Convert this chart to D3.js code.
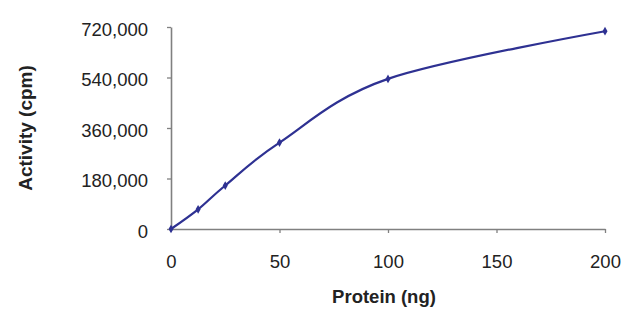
<!DOCTYPE html>
<html><head><meta charset="utf-8">
<script src="https://cdn.jsdelivr.net/npm/d3@7"></script>
<style>
html,body{margin:0;padding:0;background:#fff;}
svg{display:block;font-family:"Liberation Sans",Arial,sans-serif;}
</style></head>
<body>
<svg id="c" width="640" height="323"></svg>
<script>
const protein = [0, 12.5, 25, 50, 100, 200];
const activity = [0, 70000, 155000, 308000, 535000, 705000];
const xTicks = [0, 50, 100, 150, 200];
const yTicks = [0, 180000, 360000, 540000, 720000];
const xTitle = "Protein (ng)";
const yTitle = "Activity (cpm)";

const svg = d3.select("#c");
const m = {l:171, r:35, t:27, b:94};
const W = 640, H = 323;
const x = d3.scaleLinear().domain([0,200]).range([m.l, W - m.r]);
const y = d3.scaleLinear().domain([0,720000]).range([H - m.b, m.t]);
const axisCol = "#808080", txtCol = "#222";

const fmt = d3.format(",");
const gx = svg.append("g").attr("transform", `translate(0,${y(0)})`)
  .call(d3.axisBottom(x).tickValues(xTicks).tickSizeOuter(0).tickSizeInner(4).tickPadding(22).tickFormat(d3.format("d")));
const gy = svg.append("g").attr("transform", `translate(${x(0)},0)`)
  .call(d3.axisLeft(y).tickValues(yTicks).tickSizeOuter(0).tickSizeInner(4).tickPadding(19).tickFormat(fmt));
[gx, gy].forEach(g => {
  g.select(".domain").attr("stroke", axisCol).attr("stroke-width", 1.6);
  g.selectAll(".tick line").attr("stroke", axisCol).attr("stroke-width", 1.3);
  g.selectAll(".tick text").attr("fill", txtCol).style("font-size", "18.5px").style("font-family", "'Liberation Sans',Arial,sans-serif");
});
gy.selectAll(".tick text").attr("dy", "0.45em");
gx.select(".tick line").attr("display", "none");

const data = protein.map((p,i) => ({p, a: activity[i]}));
const line = d3.line().x(d => x(d.p)).y(d => y(d.a)).curve(d3.curveCardinal.tension(0));
svg.append("path").datum(data).attr("d", line)
  .attr("fill","none").attr("stroke","#2E3192").attr("stroke-width",2.2);
svg.append("g").selectAll("path").data(data).join("path")
  .attr("d", d3.symbol(d3.symbolDiamond, 22))
  .attr("transform", d => `translate(${x(d.p)},${y(d.a)})`)
  .attr("fill","#2E3192");

svg.append("text").attr("x", 384).attr("y", 303).attr("text-anchor","middle")
  .attr("fill", txtCol).style("font-weight","bold").style("font-size","18.5px").text(xTitle);
svg.append("text").attr("transform", `translate(32,128) rotate(-90)`).attr("text-anchor","middle")
  .attr("fill", txtCol).style("font-weight","bold").style("font-size","19px").text(yTitle);
</script>
</body></html>
